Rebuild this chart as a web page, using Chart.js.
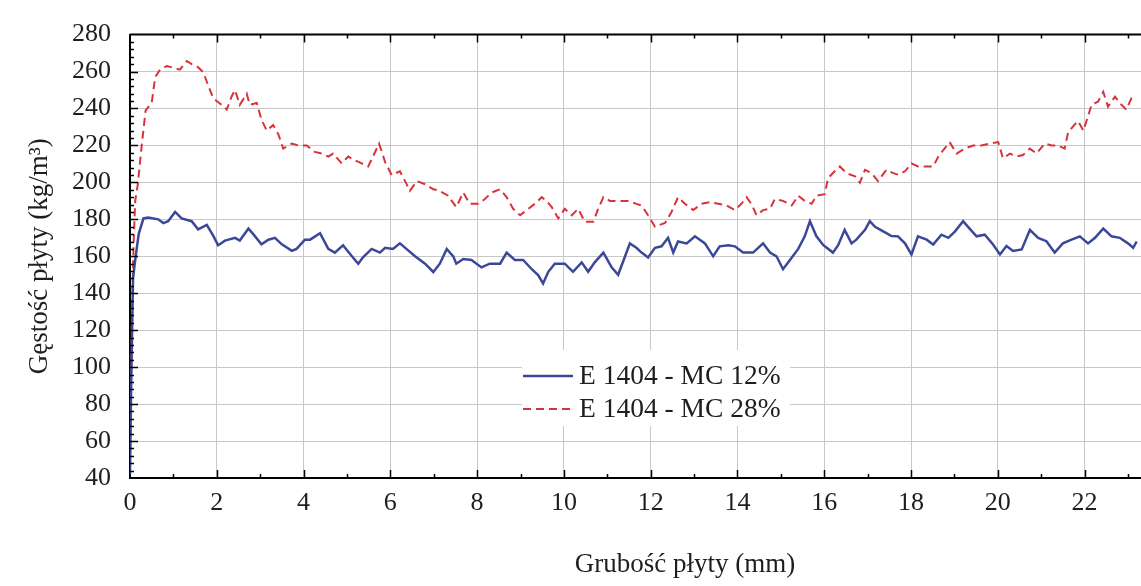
<!DOCTYPE html>
<html>
<head>
<meta charset="utf-8">
<script src="https://cdn.jsdelivr.net/npm/chart.js@4/dist/chart.umd.min.js"></script>
<style>
  body { margin: 0; background: #fff; }
  canvas { display: block; }
</style>
</head>
<body>
<canvas id="densityChart" width="1141" height="586"></canvas>
<script>
// Profil gęstości
const xTicks = [0, 2, 4, 6, 8, 10, 12, 14, 16, 18, 20, 22];
const yTicks = [40, 60, 80, 100, 120, 140, 160, 180, 200, 220, 240, 260, 280];

const mc12Label = "E 1404 - MC 12%";
const mc12X = [0.00, 0.03, 0.07, 0.12, 0.20, 0.31, 0.42, 0.65, 0.77, 0.88, 1.04, 1.19, 1.42, 1.57, 1.77, 1.92,
  2.03, 2.19, 2.42, 2.53, 2.73, 2.84, 3.03, 3.19, 3.34, 3.50, 3.73, 3.84, 4.03, 4.15, 4.38, 4.57, 4.72, 4.91,
  5.10, 5.26, 5.37, 5.57, 5.76, 5.88, 6.06, 6.22, 6.37, 6.57, 6.80, 6.99, 7.14, 7.30, 7.45, 7.52, 7.68, 7.87,
  8.10, 8.29, 8.53, 8.68, 8.87, 9.06, 9.26, 9.41, 9.52, 9.64, 9.79, 10.02, 10.21, 10.41, 10.56, 10.71, 10.91,
  11.10, 11.25, 11.41, 11.52, 11.67, 11.79, 11.94, 12.10, 12.25, 12.40, 12.52, 12.63, 12.83, 13.02, 13.25,
  13.44, 13.59, 13.79, 13.94, 14.13, 14.36, 14.59, 14.75, 14.90, 15.05, 15.21, 15.40, 15.55, 15.67, 15.82,
  15.98, 16.20, 16.32, 16.47, 16.63, 16.74, 16.94, 17.05, 17.17, 17.36, 17.55, 17.70, 17.86, 18.01, 18.16,
  18.36, 18.51, 18.70, 18.86, 19.01, 19.20, 19.35, 19.51, 19.70, 19.89, 20.05, 20.20, 20.35, 20.55, 20.74,
  20.93, 21.12, 21.31, 21.50, 21.70, 21.89, 22.08, 22.24, 22.43, 22.62, 22.81, 23.00, 23.12, 23.20];
const mc12Y = [42, 95, 148, 158, 172, 180.5, 181, 180, 178, 179, 184, 180.5, 179, 174.6, 177, 171,
  166, 168.5, 170, 168.5, 175, 172, 166.5, 169, 170, 166.5, 163, 164, 169, 169, 172.5, 164, 162, 166,
  160.4, 156, 159.5, 164, 162, 164.6, 164, 167, 164, 160, 156, 151.5, 156, 164, 160, 156, 158.5, 158,
  154, 156, 156, 162, 158, 158, 153, 149.7, 145.3, 151.6, 156, 156, 151.6, 156.7, 151.6, 156.7, 162,
  154, 150, 160, 167, 164.6, 162, 159.4, 164.6, 165.4, 170, 162, 168, 167, 170.8, 167,
  160, 165.4, 166, 165.4, 162, 162, 167, 162, 160, 153, 158, 164, 170.8, 179, 170.8,
  166, 162, 166, 174.3, 167, 169, 174.3, 179, 176, 173.5, 171, 170.8, 167, 161, 170.8,
  169, 166.4, 171.7, 170, 173.4, 179, 175, 170.8, 171.7, 166.4, 161, 165.6, 162.9, 163.7, 174.3,
  170, 168.2, 162, 167, 169, 170.8, 167, 170, 175, 170.8, 170, 167, 164.6, 168];

const mc28Label = "E 1404 - MC 28%";
const mc28X = [0.00, 0.04, 0.08, 0.12, 0.18, 0.27, 0.36, 0.50, 0.58, 0.69, 0.85, 1.00, 1.15, 1.31, 1.42, 1.54,
  1.69, 1.80, 1.92, 2.11, 2.23, 2.34, 2.42, 2.53, 2.69, 2.76, 2.92, 3.03, 3.15, 3.30, 3.42, 3.53, 3.73, 3.88,
  4.07, 4.26, 4.42, 4.57, 4.68, 4.88, 5.03, 5.18, 5.34, 5.49, 5.60, 5.74, 5.88, 6.03, 6.22, 6.34, 6.45, 6.61,
  6.80, 6.99, 7.14, 7.33, 7.52, 7.68, 7.83, 8.03, 8.18, 8.33, 8.53, 8.68, 8.83, 8.99, 9.18, 9.33, 9.49, 9.60,
  9.72, 9.87, 10.02, 10.18, 10.33, 10.48, 10.68, 10.79, 10.91, 11.06, 11.25, 11.48, 11.67, 11.79, 11.94,
  12.10, 12.21, 12.33, 12.48, 12.63, 12.79, 12.98, 13.17, 13.36, 13.56, 13.75, 13.94, 14.09, 14.21, 14.32,
  14.44, 14.59, 14.75, 14.86, 15.05, 15.25, 15.40, 15.55, 15.71, 15.82, 16.01, 16.09, 16.24, 16.36, 16.51,
  16.71, 16.82, 16.94, 17.09, 17.24, 17.43, 17.59, 17.70, 17.86, 18.01, 18.16, 18.36, 18.51, 18.63, 18.74,
  18.89, 19.05, 19.24, 19.43, 19.62, 19.82, 20.01, 20.12, 20.28, 20.43, 20.58, 20.74, 20.89, 21.08, 21.24,
  21.39, 21.54, 21.62, 21.74, 21.85, 21.97, 22.08, 22.16, 22.31, 22.43, 22.54, 22.70, 22.85, 22.96, 23.08, 23.16];
const mc28Y = [48, 120, 165, 190, 199, 220, 239, 243, 257, 261, 263, 262, 261, 265.7, 264, 263,
  259.6, 252.6, 245.5, 242, 239.4, 246.4, 250, 242, 248, 242, 243, 234, 228, 231, 226, 218.3, 221, 220,
  220, 216.5, 215.6, 214, 215.6, 210.3, 214, 212, 210.3, 208.6, 214, 221, 211, 204, 206, 200.7, 195.4, 200.7,
  199, 196.3, 195.4, 192.8, 186.6, 194.5, 188.4, 188.4, 191, 194.5, 196.3, 192, 185.7, 182.2, 185.7, 188.4, 192, 190,
  186.6, 180.5, 185.7, 182.2, 185.7, 178.7, 178.7, 185.7, 192, 190, 190, 190, 188.4, 187.5, 182.2,
  176, 177, 178, 184, 192, 188.4, 185, 188.4, 189.3, 188.4, 187.5, 185, 188.4, 192, 188.4,
  182.2, 185, 185.7, 191, 190, 187.5, 192.8, 190, 188.4, 192.8, 193.6, 202.4, 206, 208.6, 205,
  203.3, 199.8, 206.8, 205, 200.7, 206.8, 205, 204.2, 206, 210.3, 208.6, 208.6, 208.6, 214, 217.4,
  221.8, 215.6, 218.3, 220, 220, 221, 221.8, 213, 215.6, 214, 214.8, 218.3, 215.6, 221, 220,
  220, 218.3, 227, 230.5, 233.2, 228, 235.8, 242, 243.7, 249, 241, 246.4, 242, 239.4, 245.5, 246.4];

const xTitle = "Grubość płyty (mm)";
const yTitle = "Gęstość płyty (kg/m³)";

function toPoints(xs, ys) {
    return xs.map(function (x, i) { return { x: x, y: ys[i] }; });
}

const serif = "'Liberation Serif', 'Times New Roman', serif";
const textColor = "#1e1e1e";

// ramka, ticki do wewnatrz, tytuly osi i legenda w srodku wykresu
const extrasPlugin = {
    id: "extras",
    afterDraw: function (chart) {
        const c = chart.ctx;
        const a = chart.chartArea;
        const xs = chart.scales.x;
        const ys = chart.scales.y;
        c.save();

        // gorna krawedz
        c.strokeStyle = "#000";
        c.lineWidth = 2;
        c.beginPath();
        c.moveTo(a.left, a.top);
        c.lineTo(a.right, a.top);
        c.stroke();

        // ticki na osi x (dol i gora)
        c.lineWidth = 1.5;
        for (let v = 1; v <= 23; v++) {
            const px = Math.round(xs.getPixelForValue(v)) + 0.5;
            const len = v % 2 === 0 ? 8 : 4;
            c.beginPath();
            c.moveTo(px, a.bottom);
            c.lineTo(px, a.bottom - len);
            c.moveTo(px, a.top);
            c.lineTo(px, a.top + len);
            c.stroke();
        }
        // ticki na osi y
        for (let v = 44; v < 280; v += 4) {
            const py = Math.round(ys.getPixelForValue(v)) + 0.5;
            const len = (v - 40) % 20 === 0 ? 8 : 4;
            c.beginPath();
            c.moveTo(a.left, py);
            c.lineTo(a.left + len, py);
            c.stroke();
        }

        // tytuly osi
        c.fillStyle = textColor;
        c.font = "27px " + serif;
        c.textAlign = "center";
        c.textBaseline = "middle";
        c.fillText(xTitle, 685, 565);
        c.save();
        c.translate(40, (a.top + a.bottom) / 2);
        c.rotate(-Math.PI / 2);
        c.fillText(yTitle, 0, 0);
        c.restore();

        // legenda
        c.fillStyle = "#fff";
        c.fillRect(522, 350, 268, 76);
        const rows = [
            { ds: chart.data.datasets[0], y: 376 },
            { ds: chart.data.datasets[1], y: 409 }
        ];
        rows.forEach(function (r) {
            c.strokeStyle = r.ds.borderColor;
            c.lineWidth = r.ds.borderWidth;
            c.setLineDash(r.ds.borderDash || []);
            c.beginPath();
            c.moveTo(523, r.y);
            c.lineTo(573, r.y);
            c.stroke();
            c.setLineDash([]);
            c.fillStyle = textColor;
            c.font = "27.5px " + serif;
            c.textAlign = "left";
            c.fillText(r.ds.label, 579, r.y + 1);
        });
        c.restore();
    }
};

const ctx = document.getElementById("densityChart").getContext("2d");
const densityChart = new Chart(ctx, {
    type: "scatter",
    data: {
        datasets: [{
            label: mc12Label,
            data: toPoints(mc12X, mc12Y),
            showLine: true,
            borderColor: "#3b4897",
            borderWidth: 2.5,
            pointRadius: 0,
            tension: 0
        }, {
            label: mc28Label,
            data: toPoints(mc28X, mc28Y),
            showLine: true,
            borderColor: "#d8333a",
            borderWidth: 2,
            borderDash: [8, 5],
            pointRadius: 0,
            tension: 0
        }]
    },
    options: {
        responsive: false,
        animation: false,
        layout: {
            padding: { top: 23, right: 0, bottom: 0, left: 0 }
        },
        plugins: {
            legend: { display: false },
            tooltip: { enabled: false }
        },
        scales: {
            x: {
                type: "linear",
                min: 0,
                max: 23.3,
                afterBuildTicks: function (scale) {
                    scale.ticks = xTicks.map(function (v) { return { value: v }; });
                },
                afterFit: function (scale) { scale.height = 108; },
                grid: { color: "#c8c8c8", lineWidth: 1, drawTicks: false },
                border: { color: "#000", width: 2 },
                ticks: {
                    padding: 10,
                    color: textColor,
                    font: { family: serif, size: 26 }
                }
            },
            y: {
                min: 40,
                max: 280,
                afterBuildTicks: function (scale) {
                    scale.ticks = yTicks.map(function (v) { return { value: v }; });
                },
                afterFit: function (scale) { scale.width = 130; },
                grid: { color: "#c8c8c8", lineWidth: 1, drawTicks: false },
                border: { color: "#000", width: 2 },
                ticks: {
                    padding: 19,
                    color: textColor,
                    font: { family: serif, size: 26 }
                }
            }
        }
    },
    plugins: [extrasPlugin]
});
</script>
</body>
</html>
